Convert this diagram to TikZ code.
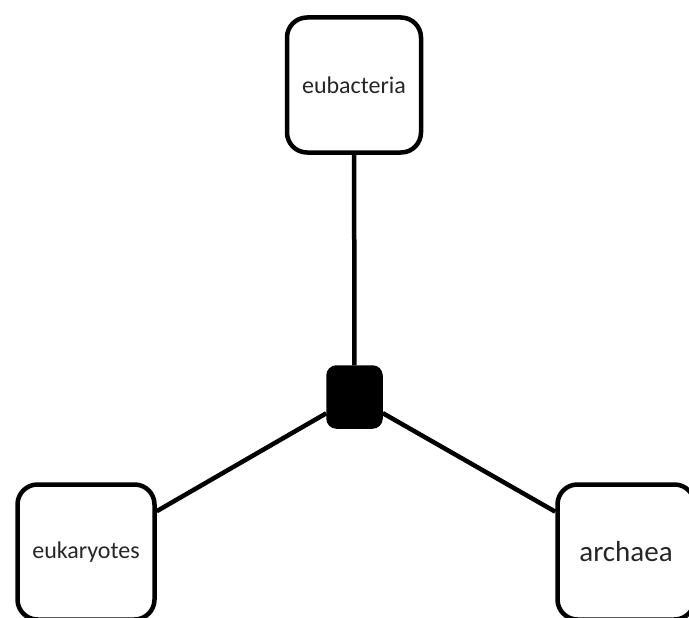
\documentclass[tikz,border=0pt]{standalone}
\usepackage{fontspec}
\setmainfont{Carlito}
\usetikzlibrary{positioning}

\begin{document}
\begin{tikzpicture}[x=1pt, y=-1pt,
    every node/.style={inner sep=0pt},
    taxon/.style={draw, line width=4.5pt, rounded corners=20pt, minimum width=134pt, minimum height=135pt, text=black!85, font=\fontsize{24}{28}\selectfont},
    hub/.style={draw, fill=black, line width=4.5pt, rounded corners=8pt, minimum width=52pt, minimum height=59pt}]
    \useasboundingbox (0,0) rectangle (689,618);
    \node[hub] (root) at (354.5,397) {};
    \node[taxon] (eubac) at (354,85) {eubacteria};
    \node[taxon, minimum width=137pt] (eukar) at (86,552) {eukaryotes};
    \node[taxon, minimum width=137pt, font=\fontsize{29}{34}\selectfont] (archa) at (626,552) {archaea};
    \foreach \t in {eubac,eukar,archa} {
        \draw[line width=4.5pt] (root) -- (\t);
    }
\end{tikzpicture}
\end{document}
